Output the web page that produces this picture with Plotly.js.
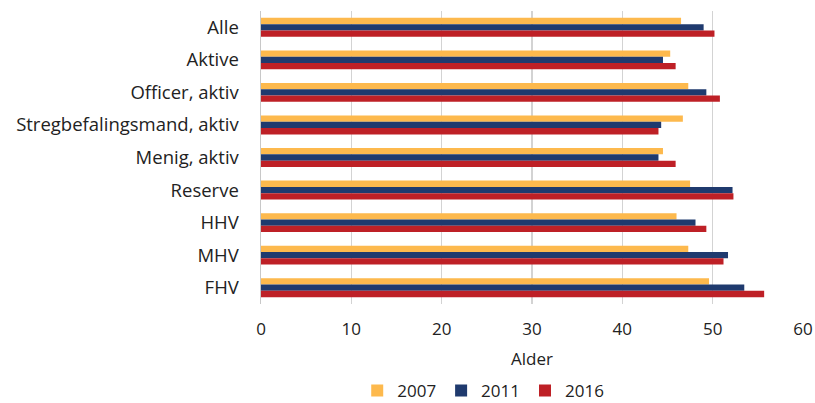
<!DOCTYPE html>
<html>
<head>
<meta charset="utf-8">
<script src="https://cdn.plot.ly/plotly-3.0.1.min.js"></script>
<style>
  html, body { margin: 0; padding: 0; background: #fff; }
  #chart { width: 815px; height: 403px; }
</style>
</head>
<body>
<div id="chart"></div>
<script>
var categories = ["Alle", "Aktive", "Officer, aktiv", "Stregbefalingsmand, aktiv", "Menig, aktiv", "Reserve", "HHV", "MHV", "FHV"];
var years = ["2007", "2011", "2016"];
var values2007 = [46.5, 45.3, 47.3, 46.7, 44.5, 47.5, 46.0, 47.3, 49.6];
var values2011 = [49.0, 44.5, 49.3, 44.3, 44.0, 52.2, 48.1, 51.7, 53.5];
var values2016 = [50.2, 45.9, 50.8, 44.0, 45.9, 52.3, 49.3, 51.2, 55.7];
var colors = ["#FDB94D", "#1F3A6E", "#BE2026"];

var series = [values2007, values2011, values2016];
var data = [];
for (let i = 0; i < years.length; i++) {
	data.push({
		type: 'bar',
		orientation: 'h',
		name: years[i],
		y: categories,
		x: series[i],
		marker: {color: colors[i]},
		hoverinfo: 'x+y'
	});
}

var font = {family: "'Open Sans', 'DejaVu Sans', sans-serif", size: 17, color: "#222"};
var layout = {
	width: 815, height: 403,
	margin: {l: 261, r: 12, t: 11, b: 99, autoexpand: false},
	barmode: 'group',
	bargap: 0.42,
	bargroupgap: 0,
	font: font,
	showlegend: true,
	legend: {orientation: 'h', x: 0.41, xanchor: 'center', yref: 'container', y: 0.03, yanchor: 'middle',
		font: font, itemwidth: 30, traceorder: 'normal'},
	xaxis: {
		range: [0, 60],
		tickvals: [0, 10, 20, 30, 40, 50, 60],
		showgrid: true, gridcolor: "#d3d3d3", gridwidth: 1.5,
		zeroline: false, showline: false,
		ticks: '', ticklabelstandoff: 13,
		title: {text: "Alder", font: font, standoff: 14}
	},
	yaxis: {
		autorange: 'reversed',
		showgrid: false, zeroline: false,
		showline: true, linecolor: "#c8c8c8", linewidth: 1.5,
		ticks: '', ticklabelstandoff: 17,
		tickfont: {family: font.family, size: 18.5, color: "#222"}
	},
	plot_bgcolor: "#fff",
	paper_bgcolor: "#fff"
};

Plotly.newPlot('chart', data, layout, {displayModeBar: false, staticPlot: true});
</script>
</body>
</html>
